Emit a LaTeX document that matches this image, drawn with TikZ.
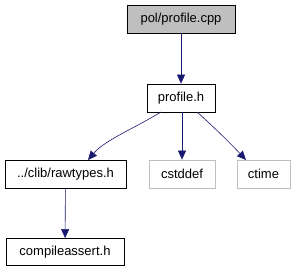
\documentclass[tikz,border=0pt]{standalone}
\usepackage{fontspec}
\setmainfont{Liberation Sans}
\usetikzlibrary{arrows.meta}
\definecolor{edgeblue}{HTML}{191970}
\definecolor{grayfill}{HTML}{BFBFBF}
\definecolor{grayline}{HTML}{BFBFBF}
\begin{document}
\begin{tikzpicture}[x=1pt,y=-1pt,
  every node/.style={font=\fontsize{13}{15}\selectfont, inner sep=0pt, anchor=center},
  filebox/.style={draw=black, line width=0.8pt, fill=white},
  rootbox/.style={draw=black, line width=0.8pt, fill=grayfill},
  extbox/.style={draw=grayline, line width=0.8pt, fill=white},
  edge/.style={draw=edgeblue, line width=0.6pt, -{Triangle[length=9pt,width=8pt]}}]
\useasboundingbox (0,0) rectangle (296,272);
\node[rootbox, minimum width=108, minimum height=28] (cpp) at (181,19) {pol/profile.cpp};
\node[filebox, minimum width=68, minimum height=28] (ph) at (181,98) {profile.h};
\node[filebox, minimum width=121, minimum height=28] (raw) at (65.5,174) {../clib/rawtypes.h};
\node[extbox, minimum width=66, minimum height=28] (cst) at (182,174) {cstddef};
\node[extbox, minimum width=53, minimum height=28] (ct) at (263.5,174) {ctime};
\node[filebox, minimum width=118, minimum height=27] (ca) at (65,252) {compileassert.h};
\coordinate (s1) at (161,112);
\coordinate (e1) at (88,160);
\coordinate (s3) at (197,112);
\coordinate (e3) at (246,160);
\draw[edge] (cpp) -- (ph);
\draw[edge] (s1) .. controls (135,128) and (105,140) .. (e1);
\draw[edge] (ph.south -| cst.north) -- (cst.north);
\draw[edge] (s3) .. controls (215,128) and (232,145) .. (e3);
\draw[edge] (raw) -- (ca);
\end{tikzpicture}
\end{document}
